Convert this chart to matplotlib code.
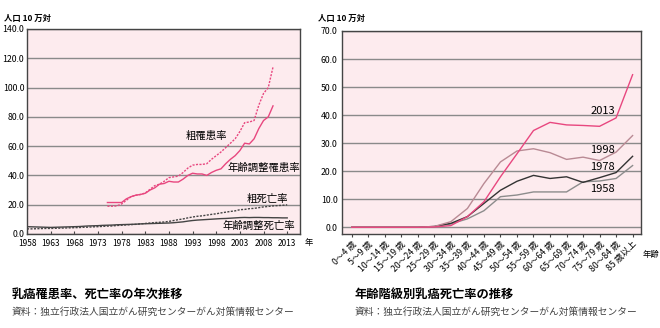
import matplotlib
matplotlib.use("Agg")
import matplotlib.pyplot as plt

plt.rcParams['font.family'] = ['Noto Sans CJK JP', 'DejaVu Sans']

# left chart: yearly rates
inc_years = list(range(1975, 2011))
crude_inc = [19.0, 19.0, 19.2, 20.5, 23.0, 25.5, 26.5, 27.0, 28.0, 30.5,
             33.0, 34.0, 36.0, 38.5, 39.0, 39.5, 42.0, 45.0, 47.0, 47.5,
             47.5, 48.0, 51.0, 53.5, 56.0, 59.0, 62.0, 65.0, 70.0, 76.0,
             76.5, 77.5, 88.0, 96.0, 100.0, 114.0]
adj_inc = [21.5, 21.5, 21.5, 21.5, 24.0, 25.5, 26.5, 27.0, 27.8, 30.0,
           31.5, 34.0, 34.5, 36.0, 35.5, 35.5, 37.5, 40.0, 41.5, 41.0,
           41.0, 40.0, 42.0, 43.5, 44.5, 48.0, 51.0, 53.5, 57.0, 62.0,
           61.5, 65.0, 72.0, 77.5, 80.0, 87.5]

mort_years = list(range(1958, 2014))
crude_mort = [3.5, 3.5, 3.6, 3.7, 3.8, 3.8, 3.9, 4.0, 4.1, 4.2,
              4.3, 4.4, 4.6, 4.7, 4.9, 5.0, 5.2, 5.4, 5.5, 5.8,
              6.0, 6.2, 6.4, 6.6, 6.9, 7.2, 7.5, 7.8, 8.0, 8.2,
              8.6, 9.2, 9.8, 10.3, 11.0, 11.6, 12.1, 12.4, 12.9, 13.4,
              13.8, 14.4, 14.9, 15.4, 15.8, 16.6, 16.8, 17.3, 17.5, 18.0,
              18.5, 18.8, 19.2, 19.4, 19.6, 19.9]
adj_mort = [5.0, 4.9, 4.8, 4.7, 4.6, 4.5, 4.6, 4.7, 4.8, 4.9,
            5.0, 5.1, 5.3, 5.5, 5.6, 5.7, 5.9, 6.0, 6.1, 6.3,
            6.4, 6.5, 6.6, 6.7, 6.9, 7.0, 7.1, 7.2, 7.3, 7.4,
            7.5, 7.7, 8.0, 8.3, 8.8, 9.2, 9.5, 9.7, 9.9, 10.1,
            10.3, 10.5, 10.6, 10.8, 11.0, 11.2, 11.3, 11.2, 11.3, 11.3,
            11.2, 11.2, 11.1, 11.1, 11.0, 11.0]

year_ticks = list(range(1958, 2014, 5))
left_yticks = [0, 20, 40, 60, 80, 100, 120, 140]

# right chart: death rate by age group
age_labels = ["0〜4 歳", "5〜9 歳", "10〜14 歳", "15〜19 歳", "20〜24 歳",
              "25〜29 歳", "30〜34 歳", "35〜39 歳", "40〜44 歳", "45〜49 歳",
              "50〜54 歳", "55〜59 歳", "60〜64 歳", "65〜69 歳", "70〜74 歳",
              "75〜79 歳", "80〜84 歳", "85 歳以上"]
rate_2013 = [0, 0, 0, 0, 0, 0.1, 0.6, 3.8, 9.1, 18.0,
             26.2, 34.5, 37.4, 36.5, 36.3, 36.0, 39.0, 54.4]
rate_1998 = [0, 0, 0, 0, 0, 0.3, 2.0, 6.7, 15.6, 23.3,
             27.2, 28.0, 26.6, 24.2, 25.0, 23.8, 26.8, 32.7]
rate_1978 = [0, 0, 0, 0, 0, 0.3, 1.4, 3.8, 8.5, 13.2,
             16.4, 18.5, 17.4, 18.0, 16.0, 17.7, 19.5, 25.3]
rate_1958 = [0, 0, 0, 0, 0, 0.2, 1.2, 3.0, 5.9, 10.9,
             11.5, 12.6, 12.6, 12.6, 16.2, 16.5, 17.4, 22.0]
right_yticks = [0, 10, 20, 30, 40, 50, 60, 70]

PINK = "#e8477f"
BG = "#fdebee"
GRID = "#8a8a8a"
DARK = "#444444"

fig = plt.figure(figsize=(6.6, 3.28), dpi=100)

# ---- left chart ----
ax1 = fig.add_axes([0.0409, 0.2866, 0.4136, 0.625])
ax1.set_facecolor(BG)
ax1.plot(inc_years, crude_inc, color=PINK, lw=1, ls=(0, (1.5, 1)))
ax1.plot(inc_years, adj_inc, color=PINK, lw=1)
ax1.plot(mort_years, crude_mort, color=DARK, lw=1, ls=(0, (1.5, 1)))
ax1.plot(mort_years, adj_mort, color=DARK, lw=1)
ax1.set_xlim(1958, 2015.7)
ax1.set_ylim(0, 140)
ax1.set_xticks(year_ticks)
ax1.set_yticks(left_yticks)
ax1.set_yticklabels(["%.1f" % v for v in left_yticks])
ax1.grid(axis="y", color=GRID, lw=1)
ax1.set_axisbelow(True)
ax1.tick_params(axis="x", labelsize=6, length=2, direction="in", pad=3.5, color=DARK)
ax1.tick_params(axis="y", labelsize=6.3, length=0, pad=2)
for s in ax1.spines.values():
    s.set_color(DARK)
    s.set_linewidth(1)

ax1.text(1996, 67, "粗罹患率", fontsize=7.5, ha="center", va="center")
ax1.text(2008, 45, "年齢調整罹患率", fontsize=7.5, ha="center", va="center")
ax1.text(2008.8, 24, "粗死亡率", fontsize=7.5, ha="center", va="center")
ax1.text(2007, 5.5, "年齢調整死亡率", fontsize=7.5, ha="center", va="center")

fig.text(4 / 660, 1 - 18 / 328, "人口 10 万対", fontsize=6, fontweight="bold",
         ha="left", va="center")
fig.text(305 / 660, 1 - 243 / 328, "年", fontsize=6, ha="left", va="center")

# ---- right chart ----
ax2 = fig.add_axes([0.518, 0.2866, 0.453, 0.619])
ax2.set_facecolor(BG)
x = list(range(len(age_labels)))
ax2.plot(x, rate_1958, color="#8c8c8c", lw=1)
ax2.plot(x, rate_1978, color="#333333", lw=1)
ax2.plot(x, rate_1998, color="#b98a94", lw=1)
ax2.plot(x, rate_2013, color=PINK, lw=1)
ax2.set_xlim(-0.6, 17.5)
ax2.set_ylim(-2.4, 70)
ax2.set_xticks(x)
ax2.set_xticklabels(age_labels, rotation=45, ha="right", rotation_mode="anchor")
ax2.set_yticks(right_yticks)
ax2.set_yticklabels(["%.1f" % v for v in right_yticks])
ax2.grid(axis="y", color=GRID, lw=1)
ax2.set_axisbelow(True)
ax2.tick_params(axis="y", labelsize=6.3, length=0, pad=3)
ax2.tick_params(axis="x", labelsize=6.3, length=2, direction="out", pad=2, color=DARK)
for s in ax2.spines.values():
    s.set_color(DARK)
    s.set_linewidth(1)

ax2.text(15.2, 41.6, "2013", fontsize=8, ha="center", va="center")
ax2.text(15.2, 27.7, "1998", fontsize=8, ha="center", va="center")
ax2.text(15.2, 21.5, "1978", fontsize=8, ha="center", va="center")
ax2.text(15.2, 13.6, "1958", fontsize=8, ha="center", va="center")

fig.text(318 / 660, 1 - 18 / 328, "人口 10 万対", fontsize=6, fontweight="bold",
         ha="left", va="center")
fig.text(643 / 660, 1 - 255 / 328, "年齢", fontsize=6, ha="left", va="center")

# ---- titles ----
fig.text(12 / 660, 1 - 294 / 328, "乳癌罹患率、死亡率の年次推移", fontsize=8.8,
         fontweight="bold", ha="left", va="center")
fig.text(12 / 660, 1 - 312 / 328, "資料：独立行政法人国立がん研究センターがん対策情報センター",
         fontsize=7, color="#444444", ha="left", va="center")
fig.text(355 / 660, 1 - 294 / 328, "年齢階級別乳癌死亡率の推移", fontsize=8.8,
         fontweight="bold", ha="left", va="center")
fig.text(355 / 660, 1 - 312 / 328, "資料：独立行政法人国立がん研究センターがん対策情報センター",
         fontsize=7, color="#444444", ha="left", va="center")

fig.savefig("out.png", dpi=100, facecolor="white")
